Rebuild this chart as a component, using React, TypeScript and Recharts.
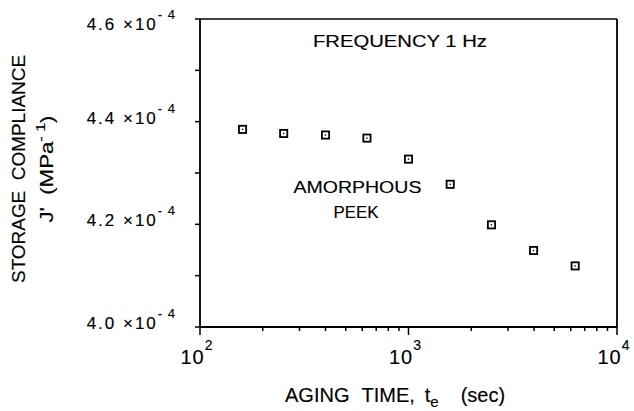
import React from 'react';
import { ScatterChart, Scatter, XAxis, YAxis, ReferenceLine } from 'recharts';

const agingTime = [160, 252, 400, 632, 1000, 1585, 2500, 3980, 6300];
const compliance = [4.385e-4, 4.377e-4, 4.374e-4, 4.368e-4, 4.327e-4, 4.278e-4, 4.199e-4, 4.149e-4, 4.119e-4];

const xTicks = [100, 200, 300, 400, 500, 600, 700, 800, 900, 1000, 2000, 3000, 4000, 5000, 6000, 7000, 8000, 9000, 10000];
const xMajor = [100, 1000, 10000];
const yTicks = [0.0004, 0.00041, 0.00042, 0.00043, 0.00044, 0.00045, 0.00046];
const yLabelled = [0.0004, 0.00042, 0.00044, 0.00046];
const xDomain = [100, 10000];
const yDomain = [0.0004, 0.00046];

const freqNote = [{ x: 910, y: 4.546e-4, text: 'FREQUENCY 1 Hz' }];
const materialNote1 = [{ x: 569, y: 4.2605e-4, text: 'AMORPHOUS' }];
const materialNote2 = [{ x: 560, y: 4.2118e-4, text: 'PEEK' }];

const points = agingTime.map((t, i) => ({ x: t, y: compliance[i] }));

const FONT = '"Liberation Sans", Arial, Helvetica, sans-serif';
const INK = { fill: '#000', stroke: '#000', strokeWidth: 0.15 };

const XTick = (props: any) => {
  const { x, y, payload } = props;
  const v = payload.value;
  const major = xMajor.includes(v);
  const exp = Math.round(Math.log10(v));
  return (
    <g>
      <line x1={x} x2={x} y1={y} y2={y + (major ? 8 : 4)} stroke="#000" strokeWidth={1.5} />
      {major && (
        <text x={x - 3} y={y + 37} textAnchor="middle" fontSize={20} fontFamily={FONT} {...INK} style={{ letterSpacing: 1 }}>
          10<tspan dy={-14} fontSize={14}>{exp}</tspan>
        </text>
      )}
    </g>
  );
};

const YTick = (props: any) => {
  const { x, y, payload } = props;
  const v = payload.value;
  const labelled = yLabelled.some((l) => Math.abs(l - v) < 1e-9);
  const isTop = Math.abs(v - yDomain[1]) < 1e-9;
  return (
    <g>
      <line x1={x - 5} x2={x} y1={y} y2={y} stroke="#000" strokeWidth={1.5} />
      {labelled && (
        <text
          x={x - 24}
          y={y + (isTop ? 11 : 2)}
          textAnchor="end"
          fontSize={17}
          fontFamily={FONT}
          {...INK}
          style={{ letterSpacing: 2 }}
        >
          {(v * 1e4).toFixed(1)} ×10
          <tspan dy={-11} fontSize={13} style={{ letterSpacing: 1 }}>- 4</tspan>
        </text>
      )}
    </g>
  );
};

const SquareMarker = (props: any) => {
  const { cx, cy } = props;
  return (
    <g>
      <rect x={cx - 3.6} y={cy - 3.6} width={7.2} height={7.2} fill="#fff" stroke="#000" strokeWidth={1.8} />
      <rect x={cx - 0.7} y={cy - 0.7} width={1.4} height={1.4} fill="#000" />
    </g>
  );
};

const makeNote = (fontSize: number, length: number) => (props: any) => (
  <text
    x={props.cx}
    y={props.cy}
    textAnchor="middle"
    fontSize={fontSize}
    fontFamily={FONT}
    {...INK}
    textLength={length}
    lengthAdjust="spacingAndGlyphs"
  >
    {props.payload.text}
  </text>
);

const XTitle = (props: any) => {
  const vb = props.viewBox || { x: 200, y: 327 };
  return (
    <text x={vb.x + 85} y={vb.y + 75} fontSize={20} fontFamily={FONT} {...INK}>
      <tspan>AGING</tspan>
      <tspan dx={12}>TIME,</tspan>
      <tspan dx={10}>t</tspan>
      <tspan dy={5} fontSize={15}>e</tspan>
      <tspan dy={-5} dx={22}>(sec)</tspan>
    </text>
  );
};

const YTitle = (props: any) => {
  const vb = props.viewBox || { x: 0, y: 19, width: 200, height: 308 };
  const cy = vb.y + vb.height / 2 - 4;
  return (
    <g fontFamily={FONT} {...INK}>
      <text
        transform={`translate(25, ${cy}) rotate(-90)`}
        x={0}
        y={0}
        textAnchor="middle"
        fontSize={18}
        textLength={228}
        lengthAdjust="spacingAndGlyphs"
      >
        <tspan>STORAGE</tspan>
        <tspan dx={10}>COMPLIANCE</tspan>
      </text>
      <text
        transform={`translate(53, ${cy}) rotate(-90)`}
        x={0}
        y={0}
        textAnchor="middle"
        fontSize={18}
        textLength={107}
        lengthAdjust="spacingAndGlyphs"
      >
        <tspan>J'</tspan>
        <tspan dx={10}>(MPa</tspan>
        <tspan dy={-8} fontSize={13}>- 1</tspan>
        <tspan dy={8}>)</tspan>
      </text>
    </g>
  );
};

export default function App() {
  return (
    <div style={{ position: 'absolute', left: 0, top: 0, background: '#fff' }}>
      <ScatterChart width={634} height={411} margin={{ top: 19, right: 17, bottom: 0, left: 0 }}>
        <XAxis
          dataKey="x"
          type="number"
          scale="log"
          domain={xDomain}
          ticks={xTicks}
          interval={0}
          allowDataOverflow
          height={84}
          tickSize={0}
          tickMargin={0}
          tick={<XTick />}
          axisLine={{ stroke: '#000', strokeWidth: 1.8 }}
          label={{ content: <XTitle /> }}
        />
        <YAxis
          dataKey="y"
          type="number"
          domain={yDomain}
          ticks={yTicks}
          interval={0}
          allowDataOverflow
          width={200}
          tickSize={0}
          tickMargin={0}
          tick={<YTick />}
          axisLine={{ stroke: '#000', strokeWidth: 1.8 }}
          label={{ content: <YTitle /> }}
        />
        <ReferenceLine y={yDomain[1]} stroke="#000" strokeWidth={1.5} />
        <ReferenceLine x={xDomain[1]} stroke="#000" strokeWidth={1.8} />
        <Scatter data={points} shape={<SquareMarker />} isAnimationActive={false} />
        <Scatter data={freqNote} shape={makeNote(16, 174)} isAnimationActive={false} />
        <Scatter data={materialNote1} shape={makeNote(17, 128)} isAnimationActive={false} />
        <Scatter data={materialNote2} shape={makeNote(16, 45)} isAnimationActive={false} />
      </ScatterChart>
    </div>
  );
}
